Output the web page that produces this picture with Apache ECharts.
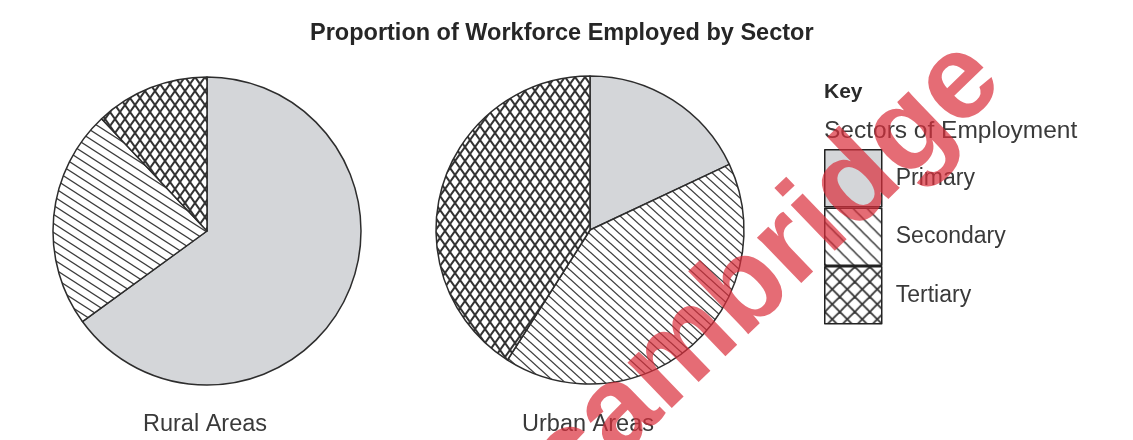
<!DOCTYPE html>
<html>
<head>
<meta charset="utf-8">
<script src="https://cdn.jsdelivr.net/npm/echarts@6/dist/echarts.min.js"></script>
<style>
html,body{margin:0;padding:0;background:#fff;}
#chart{width:1133px;height:440px;}
</style>
</head>
<body>
<div id="chart"></div>
<script>
// ---- data ----
const categories = ['Primary', 'Secondary', 'Tertiary'];
const ruralValues = [65, 23, 12];
const urbanValues = [18, 41, 41];
const pieNames = ['Rural Areas', 'Urban Areas'];
const chartTitle = 'Proportion of Workforce Employed by Sector';
const keyTitle = 'Key';
const keySubtitle = 'Sectors of Employment';
const watermarkText = 'cambridge';

// ---- patterns ----
function hatch(w, h, lw, color, cross) {
  const c = document.createElement('canvas');
  c.width = w; c.height = h;
  const ctx = c.getContext('2d');
  ctx.fillStyle = '#ffffff';
  ctx.fillRect(0, 0, w, h);
  ctx.strokeStyle = color;
  ctx.lineWidth = lw;
  for (const dx of [-w, 0, w]) {
    ctx.beginPath();
    ctx.moveTo(dx - w, -h);
    ctx.lineTo(dx + 2 * w, 2 * h);
    ctx.stroke();
    if (cross) {
      ctx.beginPath();
      ctx.moveTo(dx + w, -h);
      ctx.lineTo(dx - 2 * w, 2 * h);
      ctx.stroke();
    }
  }
  return { image: c, repeat: 'repeat' };
}
const greyFill = '#d4d6d9';
const ruralSecondary = hatch(14, 9, 1.3, '#3c3c3c', false);
const urbanSecondary = hatch(10, 9, 1.3, '#3c3c3c', false);
const pieTertiary = hatch(10, 14, 2.0, '#333333', true);
const keySecondary = hatch(14, 14, 1.4, '#333333', false);
const keyTertiary = hatch(15, 15, 1.8, '#333333', true);

const ruralStyles = [greyFill, ruralSecondary, pieTertiary];
const urbanStyles = [greyFill, urbanSecondary, pieTertiary];
const keyStyles = [greyFill, keySecondary, keyTertiary];

function pieData(values, styles) {
  return categories.map((name, i) => ({ name: name, value: values[i], itemStyle: { color: styles[i] } }));
}

const font = '"Liberation Sans", Arial, sans-serif';
const chart = echarts.init(document.getElementById('chart'), null, { renderer: 'canvas' });

const pieCommon = {
  type: 'pie',
  radius: 154,
  startAngle: 90,
  clockwise: true,
  label: { show: false },
  labelLine: { show: false },
  silent: true,
  animation: false,
  emphasis: { disabled: true },
  itemStyle: { borderColor: '#2d2d2d', borderWidth: 1.5 }
};

chart.setOption({
  backgroundColor: '#ffffff',
  animation: false,
  title: [
    { text: chartTitle, left: 310, top: 22, padding: 0,
      textStyle: { fontFamily: font, fontSize: 23.5, fontWeight: 'bold', color: '#262626' } },
    { text: pieNames[0], left: 205, top: 413, padding: 0, textAlign: 'center',
      textStyle: { fontFamily: font, fontSize: 23.5, fontWeight: 'normal', color: '#3a3a3a' } },
    { text: pieNames[1], left: 588, top: 413, padding: 0, textAlign: 'center',
      textStyle: { fontFamily: font, fontSize: 23.5, fontWeight: 'normal', color: '#3a3a3a' } },
    { text: keyTitle, left: 824, top: 82, padding: 0,
      textStyle: { fontFamily: font, fontSize: 21, fontWeight: 'bold', color: '#2a2a2a' } },
    { text: keySubtitle, left: 824, top: 119, padding: 0,
      textStyle: { fontFamily: font, fontSize: 24.5, fontWeight: 'normal', color: '#3a3a3a' } }
  ],
  legend: {
    orient: 'vertical',
    left: 824,
    top: 149,
    padding: 0,
    itemWidth: 57,
    itemHeight: 57,
    itemGap: 0,
    icon: 'rect',
    selectedMode: false,
    itemStyle: { borderColor: '#222', borderWidth: 1.5 },
    textStyle: { fontFamily: font, fontSize: 23, color: '#3a3a3a', padding: [8, 0, 0, 9] },
    data: categories.map((name, i) => ({ name: name, itemStyle: { color: keyStyles[i], borderColor: '#222', borderWidth: 1.5 } }))
  },
  series: [
    Object.assign({}, pieCommon, { name: pieNames[0], center: [207, 231], data: pieData(ruralValues, ruralStyles) }),
    Object.assign({}, pieCommon, { name: pieNames[1], center: [590, 230], data: pieData(urbanValues, urbanStyles) })
  ],
  graphic: [
    {
      type: 'text',
      x: 765, y: 272,
      rotation: 44 * Math.PI / 180,
      z: 100,
      silent: true,
      style: {
        text: watermarkText,
        font: 'bold 120px "Liberation Sans", Arial, sans-serif',
        fill: 'rgba(218, 45, 58, 0.7)',
        align: 'center',
        verticalAlign: 'middle',
        textAlign: 'center',
        textVerticalAlign: 'middle'
      }
    }
  ]
});
</script>
</body>
</html>
